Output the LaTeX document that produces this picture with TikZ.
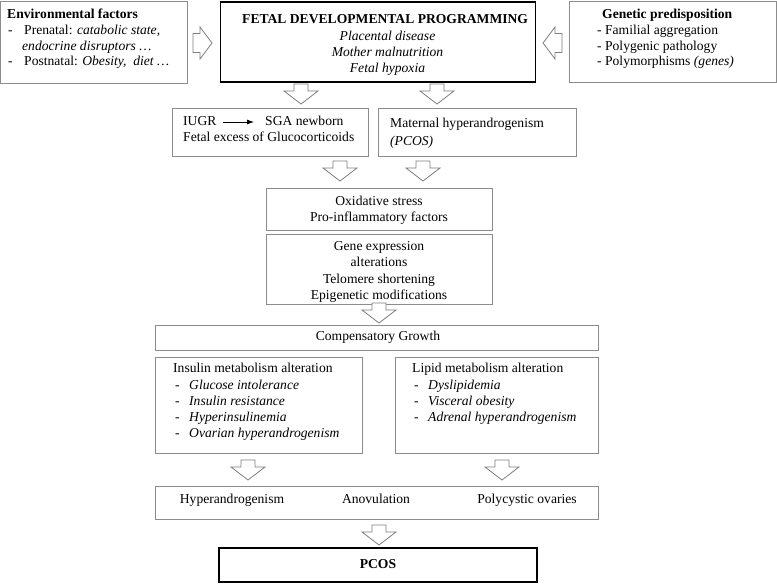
\documentclass[tikz,border=0pt]{standalone}
\usepackage{fontspec}
\setmainfont{Liberation Serif}
\usetikzlibrary{arrows.meta}
\definecolor{boxgray}{RGB}{140,140,140}
\definecolor{arrgray}{RGB}{125,125,125}
\tikzset{
  box/.style={draw=boxgray, line width=0.9pt, inner sep=0pt, outer sep=0pt},
  thickbox/.style={draw=black, line width=1.8pt, inner sep=0pt, outer sep=0pt},
  txt/.style={inner sep=0pt, text height=9pt, text depth=3pt, anchor=west, font=\fontsize{13.6pt}{16pt}\selectfont},
  ctxt/.style={txt, anchor=center},
  blk/.style={draw=arrgray, line width=0.8pt, fill=white, line join=miter},
  blkdown/.pic={\draw[blk] (-7,-20)--(7,-20)--(7,-13)--(17,-13)--(0,0)--(-17,-13)--(-7,-13)--cycle;},
  blkright/.pic={\draw[blk] (-19,-9.5)--(-12,-9.5)--(-12,-16)--(0,0)--(-12,16)--(-12,9.5)--(-19,9.5)--cycle;},
  blkleft/.pic={\draw[blk] (19,-9.5)--(12,-9.5)--(12,-16)--(0,0)--(12,16)--(12,9.5)--(19,9.5)--cycle;},
}
\begin{document}
\begin{tikzpicture}[x=1pt, y=-1pt]
\useasboundingbox (0,0) rectangle (777,584);

% ---------- boxes ----------
\node[box, minimum width=186.5pt, minimum height=82pt] (env) at (93.75,42) {};
\node[thickbox, minimum width=315pt, minimum height=80pt] (fetal) at (378,42) {};
\node[box, minimum width=207.5pt, minimum height=81pt] (gen) at (672.75,41.5) {};
\node[box, minimum width=196pt, minimum height=48pt] (iugrbox) at (270,132) {};
\node[box, minimum width=198pt, minimum height=48pt] (mat) at (477,132) {};
\node[box, minimum width=226pt, minimum height=42pt] (oxid) at (379,209) {};
\node[box, minimum width=226pt, minimum height=70pt] (gene) at (379,269) {};
\node[box, minimum width=443pt, minimum height=25pt] (comp) at (376.5,337.5) {};
\node[box, minimum width=207pt, minimum height=96pt] (ins) at (258.5,405) {};
\node[box, minimum width=203pt, minimum height=96pt] (lip) at (496.5,405) {};
\node[box, minimum width=443pt, minimum height=33pt] (hyp) at (376.5,502.5) {};
\node[thickbox, minimum width=318pt, minimum height=34pt] (pcos) at (378,565) {};

% ---------- block arrows ----------
\pic at (212,43) {blkright};
\pic at (543,43) {blkleft};
\pic at (301,104) {blkdown};
\pic at (437,104) {blkdown};
\pic at (340,181) {blkdown};
\pic at (423,181) {blkdown};
\pic at (379,323) {blkdown};
\pic at (248,480) {blkdown};
\pic at (502,480) {blkdown};
\pic at (379,545) {blkdown};

% ---------- environmental factors ----------
\node[txt] (envh) at (7,15) {\textbf{Environmental factors}};
\node[txt] (envd1) at (8,31) {-};
\node[txt] (envl1) at (24,31) {Prenatal: \textit{catabolic state,}};
\node[txt] (envl2) at (22,47) {\textit{endocrine disruptors …}};
\node[txt] (envd2) at (8,62) {-};
\node[txt] (envl3) at (24,62) {Postnatal: \textit{Obesity,\ \ diet …}};

% ---------- fetal programming ----------
\node[txt] (feth) at (242,20.5) {\textbf{FETAL DEVELOPMENTAL PROGRAMMING}};
\node[ctxt] (fet1) at (387.5,37) {\textit{Placental disease}};
\node[ctxt] (fet2) at (387.5,53) {\textit{Mother malnutrition}};
\node[ctxt] (fet3) at (387.5,69.5) {\textit{Fetal hypoxia}};

% ---------- genetic predisposition ----------
\node[txt] (genh) at (602,15) {\textbf{Genetic predisposition}};
\node[txt] (gen1) at (597,31) {- Familial aggregation};
\node[txt] (gen2) at (597,47) {- Polygenic pathology};
\node[txt] (gen3) at (597,62) {- Polymorphisms \textit{(genes)}};

% ---------- IUGR ----------
\node[txt] (iugr) at (183,122) {IUGR};
\node[txt] (sga) at (265,122) {SGA newborn};
\node[txt] (glu) at (183,138) {Fetal excess of Glucocorticoids};
\draw[-{Latex[length=7pt,width=5pt]}, line width=0.8pt, shorten <=6pt, shorten >=11pt] (iugr.east) -- (sga.west);

% ---------- maternal ----------
\node[txt] (mat1) at (390,124) {Maternal hyperandrogenism};
\node[txt] (mat2) at (390,142) {\textit{(PCOS)}};

% ---------- oxidative ----------
\node[ctxt] (ox1) at (379,202) {Oxidative stress};
\node[ctxt] (ox2) at (379,218) {Pro-inflammatory factors};

% ---------- gene ----------
\node[ctxt] (ge1) at (379,247) {Gene expression};
\node[ctxt] (ge2) at (379,263) {alterations};
\node[ctxt] (ge3) at (379,280) {Telomere shortening};
\node[ctxt] (ge4) at (379,296) {Epigenetic modifications};

% ---------- compensatory ----------
\node[ctxt] (compt) at (378,337) {Compensatory Growth};

% ---------- insulin ----------
\node[txt] (insh) at (173,369) {Insulin metabolism alteration};
\node[txt] (insd1) at (175,386) {-};
\node[txt] (ins1) at (189,386) {\textit{Glucose intolerance}};
\node[txt] (insd2) at (175,402) {-};
\node[txt] (ins2) at (189,402) {\textit{Insulin resistance}};
\node[txt] (insd3) at (175,418) {-};
\node[txt] (ins3) at (189,418) {\textit{Hyperinsulinemia}};
\node[txt] (insd4) at (175,434) {-};
\node[txt] (ins4) at (189,434) {\textit{Ovarian hyperandrogenism}};

% ---------- lipid ----------
\node[txt] (liph) at (412,369) {Lipid metabolism alteration};
\node[txt] (lipd1) at (414,386) {-};
\node[txt] (lip1) at (428,386) {\textit{Dyslipidemia}};
\node[txt] (lipd2) at (414,402) {-};
\node[txt] (lip2) at (428,402) {\textit{Visceral obesity}};
\node[txt] (lipd3) at (414,418) {-};
\node[txt] (lip3) at (428,418) {\textit{Adrenal hyperandrogenism}};

% ---------- outcomes ----------
\node[ctxt] (hyp1) at (232,500) {Hyperandrogenism};
\node[ctxt] (hyp2) at (376,500) {Anovulation};
\node[ctxt] (hyp3) at (527,500) {Polycystic ovaries};

% ---------- PCOS ----------
\node[ctxt] (pcost) at (378,565) {\textbf{PCOS}};
\end{tikzpicture}
\end{document}
